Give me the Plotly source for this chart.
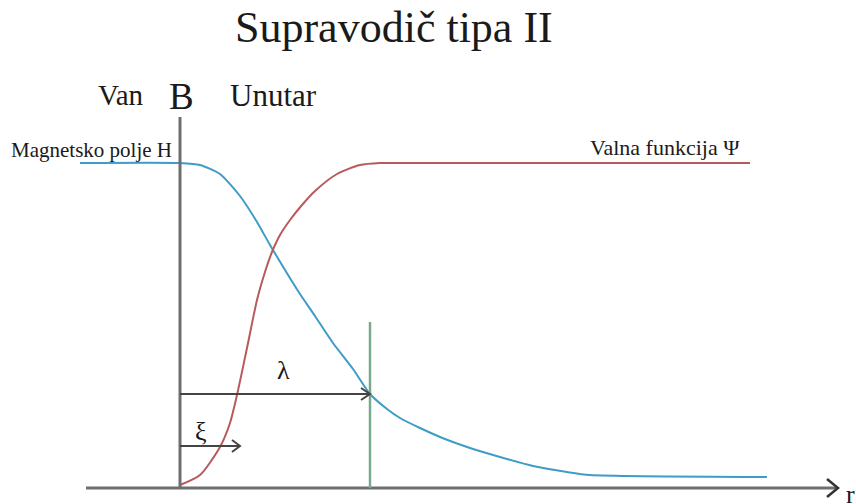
import plotly.graph_objects as go

# Diagram coordinates: r along horizontal, field/amplitude along vertical (arbitrary units)
h_r = [-100, 0, 20, 40, 60, 77, 90, 105, 120, 135, 153, 173, 190, 207, 220, 240, 265, 290, 320, 353, 387, 410, 587]
h_val = [325, 325, 323, 314, 292, 266, 243, 218, 194, 172, 145, 119, 94, 79, 70, 60, 49, 40, 31, 22, 16, 13, 11]

psi_r = [0, 20, 40, 50, 57, 67, 77, 85, 92, 100, 110, 122, 135, 157, 180, 200, 215, 570]
psi_val = [3, 13, 41, 65, 93, 140, 188, 216, 236, 253, 268, 283, 297, 314, 323, 325, 325, 325]

lambda_len = 190
lambda_height = 94
xi_len = 60
xi_height = 42
axis_r_end = 658
axis_r_start = -94
axis_b_top = 371
green_top = 166

labels = {
    "title": "Supravodič tipa II",
    "out": "Van",
    "b": "B",
    "in": "Unutar",
    "h": "Magnetsko polje H",
    "psi": "Valna funkcija Ψ",
    "lam": "λ",
    "xi": "ξ",
    "r": "r",
}

SERIF = "Liberation Serif"
GRAY = "#6e6e6e"
DARK = "#444444"

fig = go.Figure()
fig.add_trace(go.Scatter(x=h_r, y=h_val, mode="lines",
                         line=dict(color="#3e9cc6", width=2, shape="spline", smoothing=0.6),
                         hoverinfo="skip", showlegend=False))
fig.add_trace(go.Scatter(x=psi_r, y=psi_val, mode="lines",
                         line=dict(color="#b85a5c", width=2, shape="spline", smoothing=0.7),
                         hoverinfo="skip", showlegend=False))

shapes = []
# axes
shapes.append(dict(type="line", x0=axis_r_start, y0=0, x1=axis_r_end, y1=0,
                   line=dict(color=GRAY, width=3)))
shapes.append(dict(type="line", x0=0, y0=0, x1=0, y1=axis_b_top,
                   line=dict(color=GRAY, width=3)))
# green line at lambda
shapes.append(dict(type="line", x0=lambda_len, y0=0, x1=lambda_len, y1=green_top,
                   line=dict(color="#78a88e", width=2.5)))
# arrows
shapes.append(dict(type="line", x0=0, y0=lambda_height, x1=lambda_len, y1=lambda_height,
                   line=dict(color=DARK, width=2)))
shapes.append(dict(type="line", x0=0, y0=xi_height, x1=xi_len, y1=xi_height,
                   line=dict(color=DARK, width=2)))


def chevron(xt, yt, dx, dy, color, width):
    return dict(type="path",
                path=f"M {xt-dx},{yt+dy} L {xt},{yt} L {xt-dx},{yt-dy}",
                line=dict(color=color, width=width))


shapes.append(chevron(lambda_len, lambda_height, 9, 6, DARK, 2))
shapes.append(chevron(xi_len, xi_height, 8, 6, DARK, 2))
shapes.append(chevron(axis_r_end, 0, 11, 9, "#333333", 2.5))

ann = []


def text(t, x, y, size, xanchor="center"):
    ann.append(dict(text=t, x=x, y=y, xref="x", yref="y", showarrow=False,
                    xanchor=xanchor, yanchor="middle",
                    font=dict(family=SERIF, size=size, color="#1a1a1a")))


text(labels["title"], 214, 461, 44)
text(labels["out"], -59, 393, 29)
text(labels["b"], 1, 392, 37)
text(labels["in"], 93, 393, 31)
text(labels["h"], -89, 338, 21)
text(labels["psi"], 485, 341, 22)
text(labels["lam"], 103, 118, 26)
text(labels["xi"], 21, 57, 26)
text(labels["r"], 670, -6, 26)

fig.update_layout(
    width=856, height=504,
    margin=dict(l=0, r=0, t=0, b=0),
    paper_bgcolor="white", plot_bgcolor="white",
    xaxis=dict(range=[-180, 676], visible=False, fixedrange=True),
    yaxis=dict(range=[-16, 488], visible=False, fixedrange=True),
    shapes=shapes, annotations=ann,
)
fig.write_html("out.html", config={"displayModeBar": False},
               post_script="document.body.style.margin='0';document.body.style.overflow='hidden';")
